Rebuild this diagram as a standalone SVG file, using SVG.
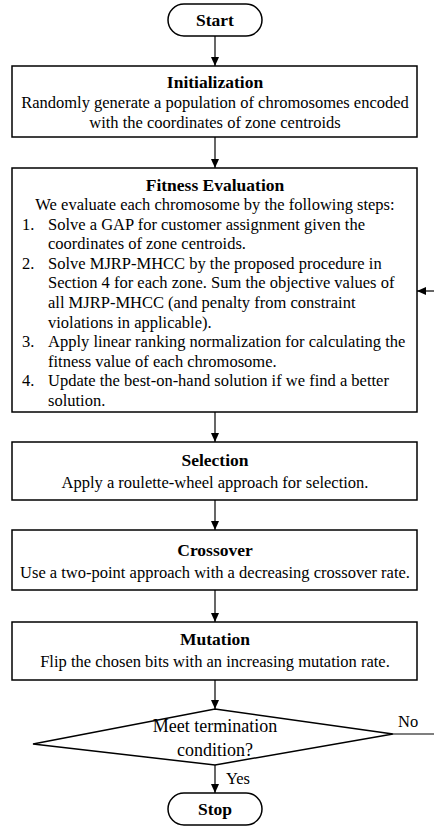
<svg xmlns="http://www.w3.org/2000/svg" width="434" height="827" viewBox="0 0 434 827" font-family="'Liberation Serif', 'Times New Roman', Times, 'DejaVu Serif', serif">
<style>
.box{fill:#fff;stroke:#000;stroke-width:1.5}
.t{font-size:17.5px;font-weight:bold;text-anchor:middle}
.b{font-size:16.5px}
.c{text-anchor:middle}
.ln{stroke:#000;stroke-width:1.2;fill:none}
</style>
<defs>
<marker id="ah" markerWidth="10" markerHeight="10" refX="9" refY="5" orient="auto" markerUnits="userSpaceOnUse">
<path d="M0,1 L9,5 L0,9 Z" fill="#000"/>
</marker>
</defs>
<g id="connectors">
<line class="ln" x1="215" y1="36" x2="215" y2="66" marker-end="url(#ah)"/>
<line class="ln" x1="215" y1="137" x2="215" y2="168" marker-end="url(#ah)"/>
<line class="ln" x1="215" y1="412" x2="215" y2="442" marker-end="url(#ah)"/>
<line class="ln" x1="215" y1="500" x2="215" y2="530" marker-end="url(#ah)"/>
<line class="ln" x1="215" y1="590" x2="215" y2="622" marker-end="url(#ah)"/>
<line class="ln" x1="215" y1="680" x2="215" y2="709" marker-end="url(#ah)"/>
<line class="ln" x1="215" y1="765" x2="215" y2="793" marker-end="url(#ah)"/>
<line class="ln" x1="393" y1="734" x2="434" y2="734"/>
<line class="ln" x1="434" y1="291" x2="417" y2="291" marker-end="url(#ah)"/>
<text class="b" x="226" y="784">Yes</text>
<text class="b" x="398" y="727">No</text>
</g>
<g id="start">
<rect class="box" x="168" y="4" width="94" height="32" rx="16"/>
<text class="t" x="215" y="26">Start</text>
</g>
<g id="initialization">
<rect class="box" x="12" y="66" width="405" height="71"/>
<text class="t" x="215" y="88">Initialization</text>
<text class="b c" x="215" y="108">Randomly generate a population of chromosomes encoded</text>
<text class="b c" x="215" y="128">with the coordinates of zone centroids</text>
</g>
<g id="fitness">
<rect class="box" x="12" y="168" width="405" height="244"/>
<text class="t" x="215" y="191">Fitness Evaluation</text>
<text class="b c" x="215" y="210">We evaluate each chromosome by the following steps:</text>
<text class="b" x="22" y="229.6">1.</text>
<text class="b" x="48" y="229.6">Solve a GAP for customer assignment given the</text>
<text class="b" x="48" y="249.2">coordinates of zone centroids.</text>
<text class="b" x="22" y="268.8">2.</text>
<text class="b" x="48" y="268.8">Solve MJRP-MHCC by the proposed procedure in</text>
<text class="b" x="48" y="288.4">Section 4 for each zone. Sum the objective values of</text>
<text class="b" x="48" y="308">all MJRP-MHCC (and penalty from constraint</text>
<text class="b" x="48" y="327.6">violations in applicable).</text>
<text class="b" x="22" y="347.2">3.</text>
<text class="b" x="48" y="347.2">Apply linear ranking normalization for calculating the</text>
<text class="b" x="48" y="366.8">fitness value of each chromosome.</text>
<text class="b" x="22" y="386.4">4.</text>
<text class="b" x="48" y="386.4">Update the best-on-hand solution if we find a better</text>
<text class="b" x="48" y="406">solution.</text>
</g>
<g id="selection">
<rect class="box" x="12" y="442" width="405" height="58"/>
<text class="t" x="215" y="466">Selection</text>
<text class="b c" x="215" y="488">Apply a roulette-wheel approach for selection.</text>
</g>
<g id="crossover">
<rect class="box" x="12" y="530" width="405" height="60"/>
<text class="t" x="215" y="556">Crossover</text>
<text class="b c" x="215" y="578">Use a two-point approach with a decreasing crossover rate.</text>
</g>
<g id="mutation">
<rect class="box" x="12" y="622" width="405" height="58"/>
<text class="t" x="215" y="645">Mutation</text>
<text class="b c" x="215" y="667">Flip the chosen bits with an increasing mutation rate.</text>
</g>
<g id="decision">
<polygon class="box" points="215,709 393,734 215,765 33,744"/>
<text class="b c" x="215" y="732" style="font-size:18px">Meet termination</text>
<text class="b c" x="215" y="756" style="font-size:18px">condition?</text>
</g>
<g id="stop">
<rect class="box" x="168" y="793" width="94" height="32" rx="16"/>
<text class="t" x="215" y="815">Stop</text>
</g>
</svg>
